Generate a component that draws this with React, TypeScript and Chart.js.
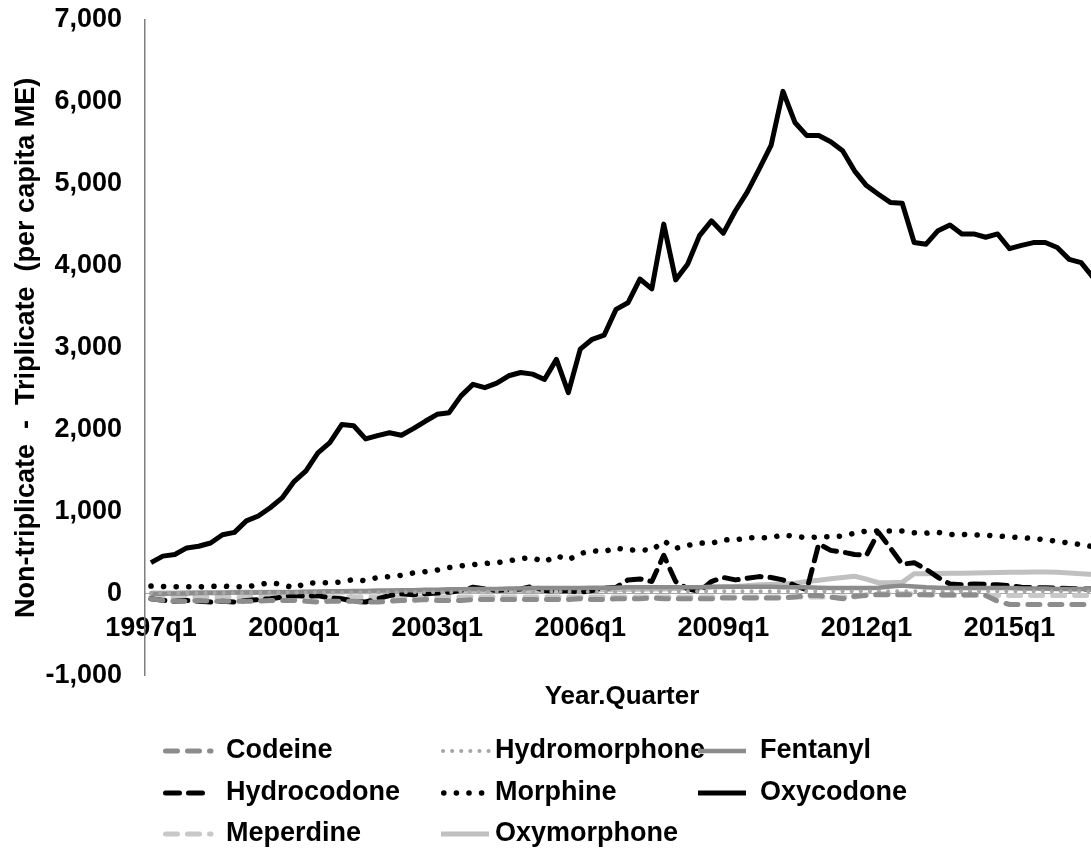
import React, { useEffect, useRef } from 'react';
import { Chart, registerables } from 'chart.js';

Chart.register(...registerables);

// ---------- data ----------
const firstYear = 1997;
const lastYear = 2016;
const categories: string[] = [];
for (let y = firstYear; y <= lastYear; y++) {
  for (let q = 1; q <= 4; q++) categories.push(`${y}q${q}`);
}
const labelEvery = 12; // one tick label every 3 years

const yTicks = [-1000, 0, 1000, 2000, 3000, 4000, 5000, 6000, 7000];

const oxycodone = [
  380, 460, 480, 560, 580, 620, 720, 750, 890, 950, 1050, 1170,
  1370, 1500, 1720, 1845, 2065, 2050, 1890, 1930, 1965, 1935, 2015, 2105,
  2190, 2210, 2415, 2555, 2515, 2570, 2660, 2700, 2680, 2615, 2860, 2455,
  2985, 3105, 3155, 3470, 3550, 3840, 3720, 4510, 3830, 4020, 4370, 4550,
  4400, 4670, 4900, 5180, 5470, 6130, 5750, 5590, 5590, 5515, 5405, 5160,
  4980, 4875, 4775, 4765, 4285, 4265, 4430, 4500, 4390, 4390, 4350, 4390,
  4210, 4250, 4285, 4285, 4225, 4080, 4040, 3860,
];

const morphine = [
  95, 90, 85, 85, 85, 90, 95, 85, 85, 110, 135, 115,
  70, 130, 135, 135, 145, 175, 160, 200, 210, 225, 255, 270,
  290, 320, 340, 355, 370, 380, 400, 430, 440, 390, 465, 415,
  490, 525, 515, 560, 530, 540, 530, 645, 555, 590, 620, 615,
  660, 655, 685, 685, 685, 720, 700, 685, 695, 695, 705, 740,
  765, 765, 765, 765, 745, 740, 750, 725, 725, 720, 715, 705,
  695, 685, 675, 660, 640, 620, 600, 575,
];

const hydrocodone = [
  -60, -80, -90, -80, -90, -100, -90, -100, -80, -70, -60, -40,
  -20, -30, -20, -50, -60, -90, -100, -60, -20, 0, -10, 0,
  10, 20, 40, 80, 60, 40, 50, 60, 90, 40, 30, 40,
  20, 40, 70, 80, 170, 180, 150, 470, 150, 60, 30, 150,
  200, 170, 190, 210, 200, 170, 100, 50, 610, 530, 510, 480,
  470, 750, 560, 360, 380, 300, 200, 120, 110, 120, 115, 110,
  100, 80, 75, 75, 70, 65, 60, 60,
];

const fentanyl = [
  0, 0, 5, 5, 10, 10, 10, 15, 15, 15, 20, 20,
  20, 25, 25, 30, 30, 35, 35, 40, 40, 45, 45, 50,
  50, 55, 55, 60, 60, 60, 65, 65, 70, 70, 70, 70,
  70, 75, 75, 75, 80, 80, 80, 80, 80, 80, 80, 85,
  85, 85, 85, 85, 85, 80, 80, 80, 75, 70, 70, 70,
  70, 75, 90, 100, 90, 80, 75, 70, 70, 70, 70, 70,
  70, 65, 65, 65, 60, 60, 60, 60,
];

const oxymorphone = [
  10, 10, 10, 15, 15, 15, 15, 20, 20, 20, 20, 20,
  20, 20, 25, 25, 25, 25, 25, 25, 30, 30, 30, 30,
  30, 30, 35, 35, 35, 35, 40, 40, 40, 40, 40, 45,
  45, 45, 50, 50, 55, 55, 60, 60, 65, 70, 75, 80,
  85, 90, 100, 110, 115, 120, 130, 150, 165, 185, 200, 215,
  180, 135, 135, 140, 245, 245, 248, 250, 250, 255, 258, 260,
  262, 262, 265, 265, 262, 255, 245, 235,
];

const codeine = [
  -60, -80, -90, -90, -80, -90, -90, -90, -90, -90, -80, -80,
  -80, -90, -100, -90, -90, -90, -100, -100, -90, -80, -80, -70,
  -80, -80, -80, -70, -70, -70, -70, -70, -70, -70, -70, -70,
  -60, -70, -70, -60, -60, -60, -50, -60, -60, -60, -60, -60,
  -50, -50, -50, -50, -50, -50, -40, -20, -20, -40, -60, -30,
  -20, -10, -10, -10, -10, -10, -10, -10, -10, -10, -20, -90,
  -130, -130, -130, -130, -130, -130, -130, -130,
];

const meperdine = [
  -30, -35, -40, -40, -40, -40, -40, -40, -40, -40, -40, -40,
  -40, -40, -40, -40, -40, -40, -40, -40, -40, -40, -40, -40,
  -40, -40, -40, -40, -40, -40, -40, -40, -40, -40, -40, -40,
  -40, -40, -40, -40, -40, -40, -40, -40, -40, -40, -40, -40,
  -40, -40, -40, -40, -40, -40, -40, -40, -40, -40, -40, -40,
  -10, 0, 0, 0, 0, -10, -20, -20, -20, -20, -20, -20,
  -20, -20, -20, -20, -20, -20, -20, -20,
];

const hydromorphone = [
  10, 10, 10, 10, 10, 10, 10, 10, 10, 15, 15, 15,
  15, 15, 15, 15, 15, 15, 20, 20, 20, 20, 20, 20,
  20, 20, 25, 25, 25, 25, 25, 25, 25, 25, 25, 25,
  25, 25, 25, 25, 30, 30, 30, 30, 30, 30, 30, 30,
  30, 30, 30, 30, 30, 30, 30, 30, 30, 30, 30, 30,
  30, 30, 30, 30, 30, 30, 30, 30, 30, 30, 30, 30,
  30, 30, 30, 30, 30, 30, 30, 30,
];

// ---------- styles ----------
const FONT = 'Liberation Sans, Arial, sans-serif';
const DASH = [12, 10];
const DOT_BIG = [0.1, 12.5];
const DOT_SMALL = [0.1, 9];

type SeriesDef = {
  label: string;
  data: number[];
  color: string;
  width: number;
  dash: number[];
};

const series: SeriesDef[] = [
  { label: 'Codeine', data: codeine, color: '#8c8c8c', width: 5, dash: DASH },
  { label: 'Hydromorphone', data: hydromorphone, color: '#a6a6a6', width: 4, dash: DOT_SMALL },
  { label: 'Fentanyl', data: fentanyl, color: '#8c8c8c', width: 4.5, dash: [] },
  { label: 'Hydrocodone', data: hydrocodone, color: '#000000', width: 5, dash: [14, 9] },
  { label: 'Morphine', data: morphine, color: '#000000', width: 5.5, dash: DOT_BIG },
  { label: 'Oxycodone', data: oxycodone, color: '#000000', width: 5, dash: [] },
  { label: 'Meperdine', data: meperdine, color: '#c8c8c8', width: 5, dash: DASH },
  { label: 'Oxymorphone', data: oxymorphone, color: '#c0c0c0', width: 5, dash: [] },
];

// legend grid (3 columns, row-wise like Excel)
const legendCols = [{ mx: 163, tx: 226 }, { mx: 441, tx: 495 }, { mx: 698, tx: 760 }];
const legendRows = [751, 793, 834];
const legendMarkerLen = 48;

const legendPlugin = {
  id: 'gridLegend',
  afterDraw(chart: any) {
    const ctx = chart.ctx as CanvasRenderingContext2D;
    ctx.save();
    series.forEach((s, i) => {
      const col = legendCols[i % 3];
      const y = legendRows[Math.floor(i / 3)];
      ctx.beginPath();
      ctx.strokeStyle = s.color;
      ctx.lineWidth = s.width;
      ctx.lineCap = s.dash.length ? 'round' : 'butt';
      ctx.setLineDash(s.dash);
      const x0 = col.mx + (s.dash.length ? s.width / 2 : 0);
      ctx.moveTo(x0, y);
      ctx.lineTo(col.mx + legendMarkerLen, y);
      ctx.stroke();
      ctx.setLineDash([]);
      ctx.fillStyle = '#000';
      ctx.font = `bold 27px ${FONT}`;
      ctx.textBaseline = 'middle';
      ctx.textAlign = 'left';
      ctx.fillText(s.label, col.tx, y);
    });
    ctx.restore();
  },
};

export default function App() {
  const ref = useRef<HTMLCanvasElement>(null);

  useEffect(() => {
    if (!ref.current) return;
    const chart = new Chart(ref.current, {
      type: 'line',
      data: {
        labels: categories,
        datasets: series.map((s) => ({
          label: s.label,
          data: s.data,
          borderColor: s.color,
          backgroundColor: s.color,
          borderWidth: s.width,
          borderDash: s.dash,
          borderCapStyle: s.dash.length ? 'round' : 'butt',
          borderJoinStyle: 'round',
          pointRadius: 0,
          pointHoverRadius: 0,
          fill: false,
          tension: 0,
        })),
      },
      plugins: [legendPlugin],
      options: {
        animation: false,
        responsive: false,
        devicePixelRatio: 1,
        layout: { padding: { top: 20, bottom: 140, left: 0, right: 0 } },
        plugins: {
          legend: { display: false },
          tooltip: { enabled: false },
          title: {
            display: true,
            position: 'bottom',
            fullSize: false,
            text: 'Year.Quarter',
            color: '#000',
            font: { family: FONT, size: 26, weight: 'bold' },
            padding: { top: 5, bottom: 0 },
          },
        },
        scales: {
          x: {
            type: 'category',
            offset: true,
            position: { y: 0 } as any,
            grid: { display: false, drawTicks: false },
            border: { display: true, color: '#a6a6a6', width: 1 },
            ticks: {
              autoSkip: false,
              maxRotation: 0,
              minRotation: 0,
              padding: 19,
              color: '#000',
              font: { family: FONT, size: 27, weight: 'bold' },
              callback: (_v: any, i: number) => (i % labelEvery === 0 ? categories[i] : ''),
            },
            afterFit: (s: any) => {
              s.height = 0;
              s.paddingLeft = 0;
              s.paddingRight = 0;
            },
          },
          y: {
            min: yTicks[0],
            max: yTicks[yTicks.length - 1],
            afterBuildTicks: (s: any) => {
              s.ticks = yTicks.map((v) => ({ value: v }));
            },
            grid: { display: false, drawTicks: false },
            border: { display: true, color: '#7f7f7f', width: 1.5 },
            ticks: {
              padding: 23,
              color: '#000',
              font: { family: FONT, size: 27, weight: 'bold' },
              callback: (v: any) => Number(v).toLocaleString('en-US'),
            },
            title: {
              display: true,
              text: 'Non-triplicate  -  Triplicate  (per capita ME)',
              color: '#000',
              font: { family: FONT, size: 27, weight: 'bold' },
              padding: { top: 10, bottom: 0 },
            },
            afterFit: (s: any) => {
              s.width = 145;
              s.paddingTop = 0;
              s.paddingBottom = 0;
            },
          },
        },
      } as any,
    });
    return () => chart.destroy();
  }, []);

  return (
    <div
      style={{
        position: 'absolute',
        left: 0,
        top: 0,
        width: 1091,
        height: 852,
        overflow: 'hidden',
        background: '#fff',
      }}
    >
      <canvas ref={ref} width={1099} height={852} style={{ width: 1099, height: 852, display: 'block' }} />
    </div>
  );
}
